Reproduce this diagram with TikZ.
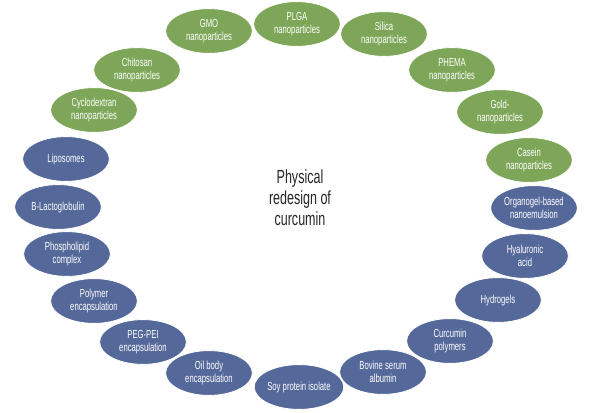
\documentclass[tikz,border=0pt]{standalone}
\usepackage{fontspec}
\setmainfont{Liberation Sans}[FakeStretch=0.66]
\usepackage{xcolor}
\usepackage{tikz}
\usetikzlibrary{shapes.geometric}

\definecolor{nanogreen}{RGB}{125,166,88}
\definecolor{carrierblue}{RGB}{85,104,154}

\begin{document}
\begin{tikzpicture}[
		x=0.025cm, y=-0.025cm,
		nanobox/.style={
			ellipse,
			draw=white,
			line width=0.6pt,
			fill=nanogreen,
			text=white,
			align=center,
			inner sep=0pt,
			minimum width=2.17cm,
			minimum height=1.12cm,
			font=\fontsize{8.3}{9.4}\selectfont
		},
		carrierbox/.style={
			nanobox,
			fill=carrierblue
		},
		core/.style={
			align=center,
			text=black!85,
			font=\fontsize{13.5}{15}\selectfont
		}
		]
		
		\useasboundingbox (0,0) rectangle (600,413);
		
		% Centre
		\node[core] (core) at (300,198) {Physical\\redesign of\\curcumin};
		
		% Nanoparticles
		\node[nanobox] (plga) at (297,24) {PLGA\\nanoparticles};
		\node[nanobox] (silica) at (384,34) {Silica\\nanoparticles};
		\node[nanobox] (phema) at (452,70) {PHEMA\\nanoparticles};
		\node[nanobox] (gold) at (500,112) {Gold-\\nanoparticles};
		\node[nanobox] (casein) at (529,160) {Casein\\nanoparticles};
		\node[nanobox] (gmo) at (209,31) {GMO\\nanoparticles};
		\node[nanobox] (chitosan) at (137,70) {Chitosan\\nanoparticles};
		\node[nanobox] (cyclo) at (94,110) {Cyclodextran\\nanoparticles};
		
		% Other carriers
		\node[carrierbox] (lipo) at (66,159) {Liposomes};
		\node[carrierbox] (lacto) at (58,207) {B-Lactoglobulin};
		\node[carrierbox] (phospho) at (67,254) {Phospholipid\\complex};
		\node[carrierbox] (polymer) at (94,301) {Polymer\\encapsulation};
		\node[carrierbox] (pegpei) at (143,342) {PEG-PEI\\encapsulation};
		\node[carrierbox] (oilbody) at (209,373) {Oil body\\encapsulation};
		\node[carrierbox] (soy) at (299,387) {Soy protein isolate};
		\node[carrierbox] (bsa) at (383,372) {Bovine serum\\albumin};
		\node[carrierbox] (curpoly) at (450,341) {Curcumin\\polymers};
		\node[carrierbox] (hydro) at (498,300) {Hydrogels};
		\node[carrierbox] (hyal) at (525,256) {Hyaluronic\\acid};
		\node[carrierbox] (organo) at (534,208) {Organogel-based\\nanoemulsion};
		
	\end{tikzpicture}
\end{document}
